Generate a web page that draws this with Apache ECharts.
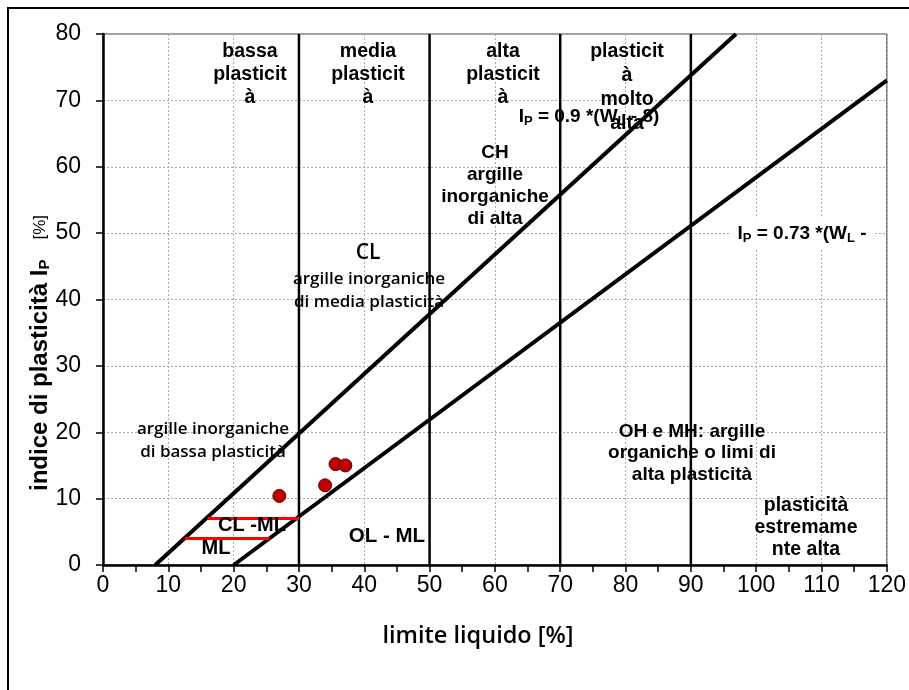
<!DOCTYPE html>
<html>
<head>
<meta charset="utf-8">
<script src="https://cdn.jsdelivr.net/npm/echarts@6/dist/echarts.min.js"></script>
<style>
  html, body { margin: 0; padding: 0; background: #fff; }
  #chart { width: 909px; height: 690px; }
</style>
</head>
<body>
<div id="chart"></div>
<script>
// Casagrande plasticity chart: liquid limit vs plasticity index
var xTicks = [0, 10, 20, 30, 40, 50, 60, 70, 80, 90, 100, 110, 120];
var yTicks = [0, 10, 20, 30, 40, 50, 60, 70, 80];

// Tested samples [liquid limit, plasticity index]
var samples = [[27.0, 10.4], [34.0, 12.0], [35.6, 15.2], [37.1, 15.0]];

// Classification lines
var aLine = [[20, 0], [120, 73]];        // IP = 0.73 (WL - 20)
var uLine = [[8, 0], [96.9, 80]];        // IP = 0.9 (WL - 8)
var plasticityBounds = [30, 50, 70, 90]; // liquid limit class boundaries
var clMlBand = [[16, 7], [30, 7]];
var mlBand = [[12.5, 4], [25.5, 4]];

var Y_MAX = 80;

var chart = echarts.init(document.getElementById('chart'));

var ARIAL = 'Liberation Sans, Arial, sans-serif';
var boldArial = { fontFamily: ARIAL, fontWeight: 'bold', fill: '#000' };
var boldSans = { fontFamily: 'Open Sans, sans-serif', fontWeight: 600, fill: '#000' };

function label(x, y, text, base, size, extra) {
  var style = Object.assign({}, base, {
    text: text, fontSize: size, align: 'center', verticalAlign: 'middle',
    lineHeight: Math.round(size * 1.2)
  }, extra || {});
  return { type: 'text', x: x, y: y, z: 100, style: style };
}

var subRich = {
  s: { fontSize: 13, fontWeight: 'bold', fontFamily: ARIAL, padding: [9, 0, 0, 0] }
};

var series = [];

plasticityBounds.forEach(function (wl) {
  series.push({
    type: 'line', data: [[wl, 0], [wl, Y_MAX]], symbol: 'none', silent: true,
    lineStyle: { color: '#000', width: 2.5 }, z: 3
  });
});

series.push({ type: 'line', data: uLine, symbol: 'none', lineStyle: { color: '#000', width: 4 }, z: 4 });
series.push({ type: 'line', data: aLine, symbol: 'none', lineStyle: { color: '#000', width: 4 }, z: 4 });
series.push({ type: 'line', data: clMlBand, symbol: 'none', lineStyle: { color: '#ff0000', width: 3 }, z: 5 });
series.push({ type: 'line', data: mlBand, symbol: 'none', lineStyle: { color: '#ff0000', width: 3 }, z: 5 });
series.push({
  type: 'scatter', data: samples, symbol: 'circle', symbolSize: 13,
  itemStyle: { color: '#c00000', borderColor: '#500000', borderWidth: 1, opacity: 1 }, z: 10
});

chart.setOption({
  animation: false,
  backgroundColor: '#fff',
  grid: { left: 103, right: 19, top: 34, bottom: 125, show: true, borderColor: '#444', borderWidth: 1 },
  xAxis: {
    type: 'value', min: xTicks[0], max: xTicks[xTicks.length - 1], interval: 10,
    axisLine: { onZero: false, lineStyle: { color: '#000', width: 2.5 } },
    axisTick: { show: true, length: 7, lineStyle: { color: '#000', width: 1.5 } },
    minorTick: { show: true, splitNumber: 2, length: 7, lineStyle: { color: '#000', width: 1.5 } },
    splitLine: { show: true, lineStyle: { color: '#aaa', width: 1, type: [2, 2] } },
    axisLabel: { fontSize: 23, color: '#000', fontFamily: ARIAL, margin: 9 }
  },
  yAxis: {
    type: 'value', min: yTicks[0], max: yTicks[yTicks.length - 1], interval: 10,
    axisLine: { onZero: false, lineStyle: { color: '#000', width: 2.5 } },
    axisTick: { show: true, length: 7, lineStyle: { color: '#000', width: 1.5 } },
    splitLine: { show: true, lineStyle: { color: '#aaa', width: 1, type: [2, 2] } },
    axisLabel: { fontSize: 23, color: '#000', fontFamily: ARIAL, margin: 22 }
  },
  series: series,
  graphic: [
    { type: 'rect', shape: { x: 8, y: 8, width: 1200, height: 1200 }, style: { fill: null, stroke: '#000', lineWidth: 2 }, silent: true },
    // axis titles
    label(478, 636, 'limite liquido [%]', boldSans, 23.5),
    {
      type: 'text', x: 40, y: 353, rotation: Math.PI / 2, z: 100,
      style: {
        text: 'indice di plasticità I{s|P}   {u|[%]}',
        fontSize: 24, fontWeight: 'bold', fontFamily: ARIAL,
        fill: '#000', align: 'center', verticalAlign: 'middle',
        rich: {
          s: { fontSize: 15, fontWeight: 'bold', fontFamily: ARIAL, padding: [10, 0, 0, 0] },
          u: { fontSize: 17, fontWeight: 'normal', fontFamily: ARIAL }
        }
      }
    },
    // plasticity classes
    label(250, 75, 'bassa\nplasticit\nà', boldArial, 19.5, { lineHeight: 23 }),
    label(368, 75, 'media\nplasticit\nà', boldArial, 19.5, { lineHeight: 23 }),
    label(503, 75, 'alta\nplasticit\nà', boldArial, 19.5, { lineHeight: 23 }),
    label(627, 88, 'plasticit\nà\nmolto\nalta', boldArial, 19.5, { lineHeight: 24 }),
    label(589, 117, 'I{s|P} = 0.9 *(W{s|L} - 8)', boldArial, 19, { rich: subRich }),
    label(495, 186, 'CH\nargille\ninorganiche\ndi alta', boldArial, 19, { lineHeight: 22 }),
    label(368, 253, 'CL', boldSans, 21),
    label(369, 291, 'argille inorganiche\ndi media plasticità', boldSans, 17, { lineHeight: 23 }),
    label(802, 234, 'I{s|P} = 0.73 *(W{s|L} -', boldArial, 19, { rich: subRich, backgroundColor: '#fff', padding: [4, 8, 4, 8] }),
    label(213, 441, 'argille inorganiche\ndi bassa plasticità', boldSans, 17, { lineHeight: 23 }),
    label(252, 525, 'CL -ML', boldArial, 20),
    label(216, 548, 'ML', boldArial, 20),
    label(387, 536, 'OL - ML', boldArial, 20.5),
    label(692, 453, 'OH e MH: argille\norganiche o limi di\nalta plasticità', boldArial, 19, { lineHeight: 21.5 }),
    label(806, 528, 'plasticità\nestremame\nnte alta', boldArial, 19.5, { lineHeight: 22 })
  ]
});
</script>
</body>
</html>
